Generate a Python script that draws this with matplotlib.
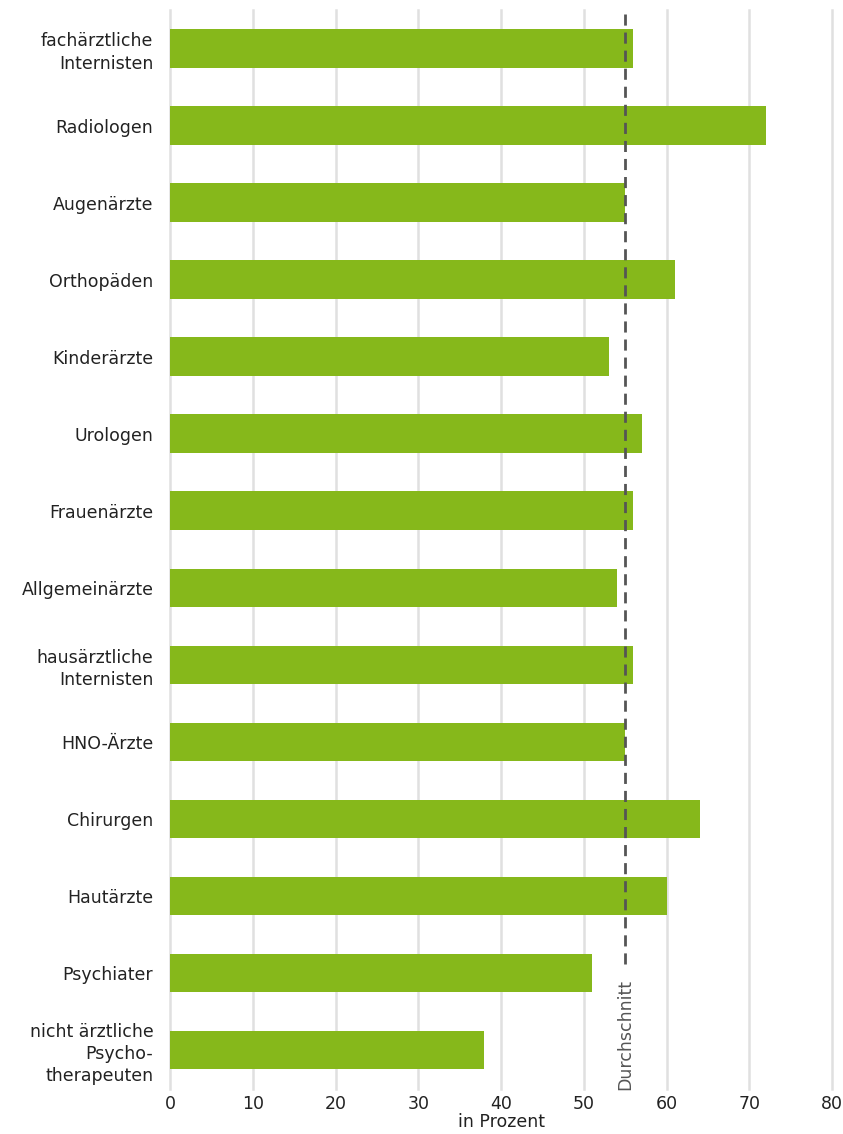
import matplotlib
matplotlib.use("Agg")
import matplotlib.pyplot as plt
import matplotlib.transforms as mtransforms

categories = ["fachärztliche\nInternisten", "Radiologen", "Augenärzte", "Orthopäden",
              "Kinderärzte", "Urologen", "Frauenärzte", "Allgemeinärzte",
              "hausärztliche\nInternisten", "HNO-Ärzte", "Chirurgen", "Hautärzte",
              "Psychiater", "nicht ärztliche\nPsycho-\ntherapeuten"]
values = [56, 72, 55, 61, 53, 57, 56, 54, 56, 55, 64, 60, 51, 38]
average = 55
xticks = [0, 10, 20, 30, 40, 50, 60, 70, 80]

plt.rcParams['font.family'] = ['DejaVu Sans']

fig = plt.figure(figsize=(8.43, 11.34), dpi=100)
ax = fig.add_axes([0.2017, 0.0401, 0.7853, 0.9511])

ypos = list(range(len(categories)))
ax.barh(ypos, values, height=0.5, color='#86b81b', zorder=2)

ax.set_ylim(len(categories) - 0.5, -0.5)
ax.set_xlim(0, 80)
ax.set_xticks(xticks)
ax.set_yticks(ypos)
ax.set_yticklabels(categories, fontsize=12.5, color='#222222', linespacing=1.3)
ax.tick_params(axis='x', labelsize=12.5, colors='#222222', length=0, pad=5)
ax.tick_params(axis='y', length=0, pad=12)
ax.grid(axis='x', color='#e0e0e0', linewidth=1.8, zorder=0)
for gl in ax.get_xgridlines():
    gl.set_clip_on(False)
ax.set_axisbelow(True)
for s in ax.spines.values():
    s.set_visible(False)
ax.set_xlabel('in Prozent', fontsize=12.5, color='#222222', labelpad=0)

# average line
ax.axvline(average, ymin=0.115, ymax=1, color='#555555', linewidth=2,
           linestyle=(0, (4, 2.5)), zorder=3)
trans = mtransforms.blended_transform_factory(ax.transData, ax.transAxes)
ax.text(average, 0.102, 'Durchschnitt', rotation=90, ha='center', va='top',
        fontsize=12.5, color='#555555', transform=trans, clip_on=False)

fig.savefig('out.png', dpi=100)
